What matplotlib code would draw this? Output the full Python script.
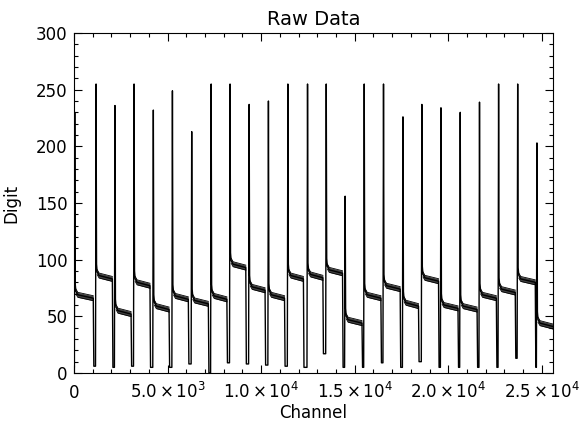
import numpy as np
import matplotlib
matplotlib.use('Agg')
import matplotlib.pyplot as plt
from matplotlib.ticker import FixedLocator, MultipleLocator, FixedFormatter

plt.rcParams['mathtext.default'] = 'regular'

# one entry per pulse: dip start, spike channel, spike top, plateau after it, dip bottom
drop_ch = [0, 1030, 2050, 3050, 4060, 5080, 6110, 7180, 8170, 9180, 10210, 11250,
           12260, 13300, 14350, 15390, 16400, 17430, 18410, 19480, 20520, 21540,
           22570, 23580, 24650]
spike_ch = [40, 1180, 2190, 3210, 4240, 5260, 6290, 7330, 8340, 9360, 10390, 11430,
            12480, 13480, 14490, 15510, 16540, 17580, 18590, 19610, 20640, 21670,
            22690, 23710, 24740]
peak = [230, 255, 236, 255, 232, 249, 213, 255, 255, 237, 240, 255,
        255, 255, 156, 255, 255, 226, 237, 234, 230, 239, 255, 255, 203]
plateau = [67, 84, 53, 78, 57, 66, 62, 66, 94, 74, 67, 84,
           85, 89, 45, 67, 75, 60, 82, 58, 57, 67, 72, 81, 42]
dip = [5, 6, 5, 6, 5, 5, 8, 0, 9, 8, 7, 6,
       5, 17, 5, 5, 9, 5, 10, 5, 5, 5, 5, 13, 5]
last_ch = 25600
noise = 2.2

xticks = [0, 5000, 10000, 15000, 20000, 25000]
xtick_labels = ['0', r'$5.0\,{\times}\,10^{3}$', r'$1.0\,{\times}\,10^{4}$',
                r'$1.5\,{\times}\,10^{4}$', r'$2.0\,{\times}\,10^{4}$',
                r'$2.5\,{\times}\,10^{4}$']
yticks = [0, 50, 100, 150, 200, 250, 300]

# build trace from the pulse table
xs, ys = [], []
bands = []
n = len(drop_ch)
for i in range(n):
    d, s = drop_ch[i], spike_ch[i]
    L = plateau[i]
    if i == 0:
        xs += [d, s - 20]
        ys += [dip[i], dip[i]]
    else:
        xs += [d, d + 30, s - 30]
        ys += [plateau[i - 1] - 1, dip[i], dip[i]]
    end = drop_ch[i + 1] if i + 1 < n else last_ch
    seg_x = [s + 60, s + 160, end]
    seg_y = [L + 5, L + 2, L - 1]
    xs += [s, s + 25] + seg_x
    ys += [peak[i], L + 12] + seg_y
    bands.append((seg_x, seg_y))

fig = plt.figure(figsize=(5.84, 4.21), dpi=100)
ax = fig.add_axes([0.1267, 0.114, 0.8203, 0.8076])

for bx, by in bands:
    by = np.array(by)
    ax.fill_between(bx, by - noise, by + noise, color='0.25', lw=0)
    ax.plot(bx, by + noise, color='black', lw=0.6)
    ax.plot(bx, by - noise, color='black', lw=0.6)
ax.plot(xs, ys, color='black', lw=1.0)

ax.set_xlim(0, last_ch)
ax.set_ylim(0, 300)
ax.xaxis.set_major_locator(FixedLocator(xticks))
ax.xaxis.set_major_formatter(FixedFormatter(xtick_labels))
ax.xaxis.set_minor_locator(MultipleLocator(1000))
ax.yaxis.set_major_locator(FixedLocator(yticks))
ax.yaxis.set_minor_locator(MultipleLocator(10))

ax.tick_params(which='both', direction='in', top=True, right=True, width=0.8,
               labelsize=12)
ax.tick_params(which='major', length=6)
ax.tick_params(which='minor', length=3)
ax.tick_params(axis='y', pad=4.5)
ax.tick_params(axis='x', pad=18)
for lbl in ax.get_xticklabels():
    lbl.set_va('baseline')
for sp in ax.spines.values():
    sp.set_linewidth(0.8)

ax.set_title('Raw Data', fontsize=14, pad=6)
ax.set_xlabel('Channel', fontsize=12)
ax.set_ylabel('Digit', fontsize=12)
ax.xaxis.set_label_coords(0.5, -0.09)
ax.yaxis.set_label_coords(-0.111, 0.5)

fig.savefig('out.png', dpi=100)
